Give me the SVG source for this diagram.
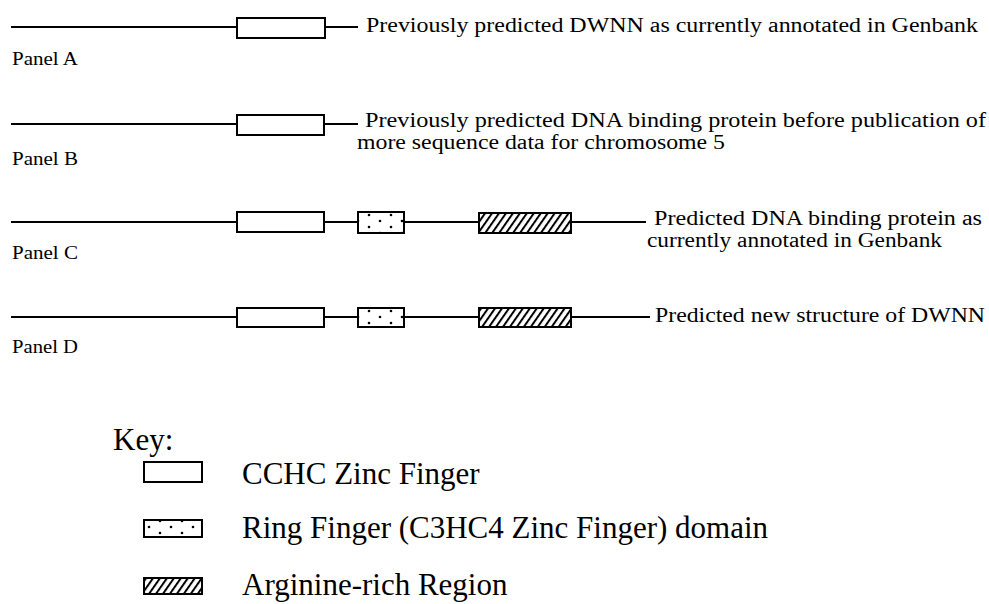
<svg xmlns="http://www.w3.org/2000/svg" width="989" height="604" viewBox="0 0 989 604">
<style>
.ln{stroke:#000;stroke-width:2;fill:none}
.bx{stroke:#000;stroke-width:2;fill:#fff}
.dt{stroke:#000;stroke-width:2;fill:url(#dots)}
.ht{stroke:#000;stroke-width:2;fill:url(#hatch)}
.t{font-family:"Liberation Serif","Times New Roman",serif;font-size:20px;fill:#000}
.lb{font-family:"Liberation Serif","Times New Roman",serif;font-size:19px;fill:#000}
.k{font-family:"Liberation Serif","Times New Roman",serif;font-size:31px;fill:#000}
</style>
<defs>
<pattern id="hatch" width="5.7" height="10" patternUnits="userSpaceOnUse" patternTransform="rotate(35)">
<rect width="5.7" height="10" fill="#fff"/>
<line x1="1" y1="0" x2="1" y2="10" stroke="#000" stroke-width="2"/>
</pattern>
<pattern id="dots" width="22" height="12" patternUnits="userSpaceOnUse" x="1" y="2">
<rect width="22" height="12" fill="#fff"/>
<circle cx="5" cy="3" r="1.3" fill="#000"/>
<circle cx="16" cy="9" r="1.3" fill="#000"/>
</pattern>
</defs>

<g id="connectors">
<line class="ln" x1="11" y1="27" x2="237" y2="27"/>
<line class="ln" x1="325" y1="27" x2="358" y2="27"/>
<line class="ln" x1="11" y1="124" x2="237" y2="124"/>
<line class="ln" x1="324" y1="124" x2="358" y2="124"/>
<line class="ln" x1="11" y1="222" x2="237" y2="222"/>
<line class="ln" x1="324" y1="222" x2="358" y2="222"/>
<line class="ln" x1="404" y1="222" x2="479" y2="222"/>
<line class="ln" x1="571" y1="222" x2="646" y2="222"/>
<line class="ln" x1="11" y1="317" x2="237" y2="317"/>
<line class="ln" x1="324" y1="317" x2="358" y2="317"/>
<line class="ln" x1="404" y1="317" x2="479" y2="317"/>
<line class="ln" x1="571" y1="317" x2="650" y2="317"/>
</g>

<g id="panelA">
<rect id="panelA-cchc" class="bx" x="237" y="18" width="88" height="20"/>
<text class="t" x="366" y="32" textLength="612" lengthAdjust="spacingAndGlyphs">Previously predicted DWNN as currently annotated in Genbank</text>
<text class="lb" x="12" y="65" textLength="66" lengthAdjust="spacingAndGlyphs">Panel A</text>
</g>

<g id="panelB">
<rect id="panelB-cchc" class="bx" x="237" y="115" width="87" height="20"/>
<text class="t" x="365" y="127" textLength="621" lengthAdjust="spacingAndGlyphs">Previously predicted DNA binding protein before publication of</text>
<text class="t" x="357" y="149" textLength="368" lengthAdjust="spacingAndGlyphs">more sequence data for chromosome 5</text>
<text class="lb" x="12" y="165" textLength="66" lengthAdjust="spacingAndGlyphs">Panel B</text>
</g>

<g id="panelC">
<rect id="panelC-cchc" class="bx" x="237" y="212" width="87" height="20"/>
<rect id="panelC-ring" class="dt" x="358" y="212" width="46" height="21"/>
<rect id="panelC-arg" class="ht" x="479" y="213" width="92" height="20"/>
<text class="t" x="654" y="225" textLength="328" lengthAdjust="spacingAndGlyphs">Predicted DNA binding protein as</text>
<text class="t" x="647" y="247" textLength="295" lengthAdjust="spacingAndGlyphs">currently annotated in Genbank</text>
<text class="lb" x="12" y="259" textLength="66" lengthAdjust="spacingAndGlyphs">Panel C</text>
</g>

<g id="panelD">
<rect id="panelD-cchc" class="bx" x="237" y="308" width="87" height="19"/>
<rect id="panelD-ring" class="dt" x="358" y="308" width="46" height="19"/>
<rect id="panelD-arg" class="ht" x="479" y="308" width="92" height="19"/>
<text class="t" x="655" y="322" textLength="330" lengthAdjust="spacingAndGlyphs">Predicted new structure of DWNN</text>
<text class="lb" x="12" y="353" textLength="66" lengthAdjust="spacingAndGlyphs">Panel D</text>
</g>

<g id="key">
<text class="k" x="113" y="450">Key:</text>
<g id="key-cchc">
<rect class="bx" x="144" y="462" width="58" height="20"/>
<text class="k" x="242" y="484">CCHC Zinc Finger</text>
</g>
<g id="key-ring">
<rect class="dt" x="144" y="520" width="58" height="17"/>
<text class="k" x="242" y="538">Ring Finger (C3HC4 Zinc Finger) domain</text>
</g>
<g id="key-arg">
<rect class="ht" x="144" y="578" width="58" height="16"/>
<text class="k" x="242" y="595">Arginine-rich Region</text>
</g>
</g>
</svg>
